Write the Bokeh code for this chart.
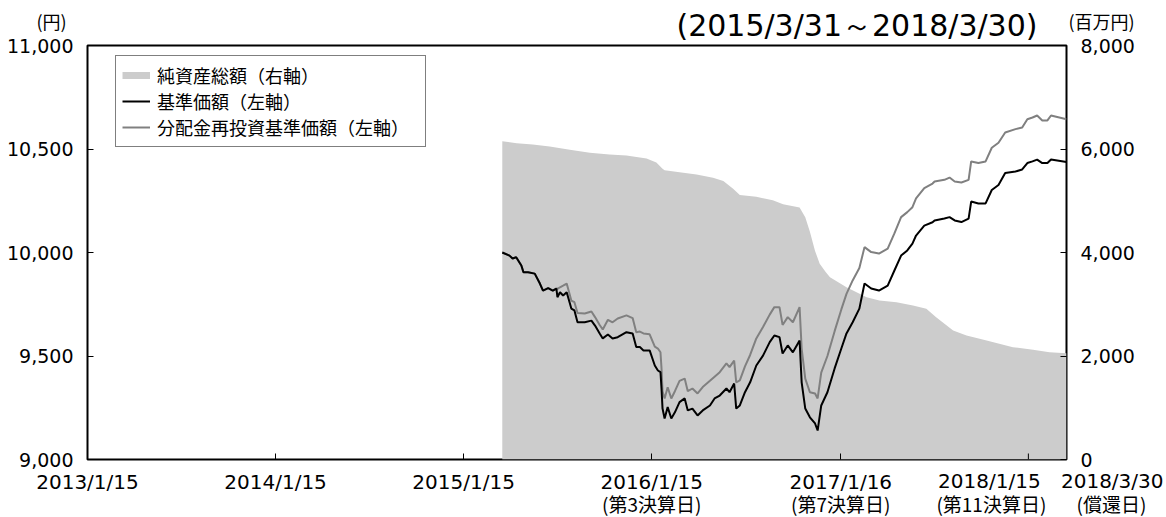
import pandas as pd
from bokeh.plotting import figure
from bokeh.models import (ColumnDataSource, Range1d, LinearAxis, FixedTicker,
                          NumeralTickFormatter, Legend, LegendItem)
from bokeh.embed import file_html
from bokeh.resources import INLINE
from bokeh.core.properties import value

# ---------------- data ----------------
price_dates = [
    "2015-03-31", "2015-04-14", "2015-04-20", "2015-04-27", "2015-05-07", "2015-05-11", "2015-05-20", "2015-06-02", "2015-06-12", "2015-06-18",
    "2015-06-28", "2015-07-07", "2015-07-14", "2015-07-16", "2015-07-21", "2015-07-27", "2015-08-03", "2015-08-12", "2015-08-18", "2015-08-24",
    "2015-09-07", "2015-09-20", "2015-09-27", "2015-10-06", "2015-10-12", "2015-10-22", "2015-10-31", "2015-11-10", "2015-11-27", "2015-12-09",
    "2015-12-16", "2015-12-23", "2015-12-30", "2016-01-11", "2016-01-21", "2016-01-27", "2016-02-01", "2016-02-03", "2016-02-05", "2016-02-09",
    "2016-02-15", "2016-02-22", "2016-02-29", "2016-03-09", "2016-03-19", "2016-03-25", "2016-04-03", "2016-04-13", "2016-04-23", "2016-05-07",
    "2016-05-16", "2016-05-26", "2016-06-08", "2016-06-14", "2016-06-23", "2016-06-27", "2016-07-04", "2016-07-14", "2016-07-24", "2016-08-05",
    "2016-08-18", "2016-08-31", "2016-09-09", "2016-09-19", "2016-09-25", "2016-10-05", "2016-10-15", "2016-10-28", "2016-11-01", "2016-11-08",
    "2016-11-17", "2016-11-27", "2016-12-02", "2016-12-09", "2016-12-21", "2017-01-04", "2017-01-17", "2017-01-27", "2017-02-08", "2017-02-21",
    "2017-03-03", "2017-03-16", "2017-03-31", "2017-04-17", "2017-04-30", "2017-05-13", "2017-05-25", "2017-06-04", "2017-06-11", "2017-06-27",
    "2017-07-13", "2017-07-17", "2017-08-05", "2017-08-15", "2017-08-25", "2017-09-07", "2017-09-21", "2017-09-26", "2017-10-10", "2017-10-24",
    "2017-11-05", "2017-11-18", "2017-12-01", "2017-12-21", "2018-01-03", "2018-01-13", "2018-01-23", "2018-02-01", "2018-02-11", "2018-02-21",
    "2018-02-28", "2018-03-30",
]
# 基準価額 (yen, left axis)
base_price = [
    10000, 9985, 9971, 9977, 9937, 9905, 9905, 9898, 9850, 9816,
    9828, 9816, 9826, 9784, 9808, 9792, 9808, 9729, 9720, 9663,
    9663, 9671, 9647, 9609, 9585, 9604, 9585, 9591, 9615, 9609,
    9543, 9543, 9527, 9527, 9454, 9430, 9422, 9343, 9246, 9198,
    9253, 9198, 9228, 9277, 9295, 9237, 9246, 9213, 9237, 9261,
    9295, 9309, 9343, 9325, 9367, 9246, 9261, 9325, 9373, 9454,
    9502, 9567, 9599, 9591, 9512, 9551, 9518, 9575, 9373, 9246,
    9204, 9174, 9140, 9261, 9325, 9440, 9536, 9609, 9663, 9729,
    9850, 9826, 9816, 9840, 9913, 9985, 10010, 10043, 10082, 10130,
    10146, 10155, 10164, 10171, 10155, 10147, 10164, 10246, 10237, 10237,
    10302, 10326, 10384, 10391, 10401, 10432, 10440, 10449, 10432, 10432,
    10449, 10437,
]
# 分配金再投資基準価額 (yen, left axis)
reinvest_price = [
    10000, 9985, 9971, 9977, 9937, 9905, 9905, 9898, 9850, 9816,
    9828, 9816, 9826, 9824, 9832, 9840, 9850, 9768, 9760, 9708,
    9705, 9715, 9688, 9650, 9628, 9675, 9663, 9681, 9696, 9683,
    9615, 9618, 9609, 9605, 9545, 9536, 9518, 9440, 9330, 9295,
    9349, 9295, 9330, 9380, 9391, 9330, 9343, 9319, 9350, 9380,
    9400, 9422, 9464, 9446, 9478, 9373, 9382, 9450, 9505, 9585,
    9640, 9700, 9736, 9736, 9650, 9688, 9663, 9736, 9536, 9391,
    9325, 9319, 9295, 9420, 9500, 9620, 9725, 9800, 9865, 9925,
    10026, 10002, 9995, 10019, 10092, 10171, 10195, 10219, 10261, 10311,
    10333, 10343, 10351, 10362, 10343, 10338, 10351, 10440, 10432, 10440,
    10506, 10530, 10580, 10596, 10604, 10644, 10652, 10662, 10638, 10638,
    10662, 10644,
]
# 純資産総額 (million yen, right axis)
nav_dates = [
    "2015-03-31", "2015-04-28", "2015-05-29", "2015-07-01", "2015-08-09", "2015-09-17", "2015-10-25", "2015-11-27", "2016-01-05", "2016-01-24",
    "2016-02-05", "2016-02-09", "2016-03-09", "2016-04-11", "2016-05-13", "2016-06-02", "2016-06-21", "2016-07-04", "2016-08-05", "2016-09-06",
    "2016-09-26", "2016-10-28", "2016-11-08", "2016-11-17", "2016-11-27", "2016-12-06", "2016-12-18", "2016-12-26", "2017-01-27", "2017-03-07",
    "2017-04-01", "2017-05-04", "2017-06-05", "2017-07-01", "2017-07-20", "2017-08-22", "2017-09-17", "2017-10-26", "2017-12-16", "2018-01-24",
    "2018-02-25", "2018-03-30",
]
nav_values = [
    6150, 6112, 6087, 6048, 5985, 5926, 5894, 5874, 5815, 5740,
    5617, 5590, 5552, 5507, 5445, 5380, 5230, 5110, 5075, 5010,
    4930, 4870, 4682, 4400, 4030, 3785, 3620, 3523, 3330, 3136,
    3072, 3040, 2976, 2912, 2750, 2493, 2396, 2300, 2170, 2120,
    2074, 2054,
]

axis_start = "2013-01-15"
axis_end = "2018-03-30"
axis_label_dates = ["2013-01-15", "2014-01-15", "2015-01-15", "2016-01-15", "2017-01-16"]
axis_label_texts = ["2013/1/15", "2014/1/15", "2015/1/15", "2016/1/15", "2017/1/16"]
extra_tick_dates = ["2018-01-15"]
end_label_dates = ["2018-01-15", "2018-03-30"]
end_label_texts = ["2018/1/15", "2018/3/30"]
sub_label_dates = ["2016-01-15", "2017-01-16", "2018-01-15", "2018-03-30"]
sub_label_texts = ["(第3決算日)", "(第7決算日)", "(第11決算日)", "(償還日)"]
left_ticks = [9000, 9500, 10000, 10500, 11000]
right_ticks = [0, 2000, 4000, 6000, 8000]
legend_labels = ["純資産総額（右軸）", "基準価額（左軸）", "分配金再投資基準価額（左軸）"]
title_text = "(2015/3/31～2018/3/30)"
left_unit = "(円)"
right_unit = "(百万円)"

# ---------------- styling / layout ----------------
NUM_FONT = "DejaVu Sans"
JP_FONT = "Noto Sans CJK JP"
NAV_COLOR = "#cccccc"
REINV_COLOR = "#808080"


def ms(d):
    return int(pd.Timestamp(d).value // 10**6)


p = figure(width=1166, height=517, x_axis_type="datetime",
           x_range=Range1d(ms(axis_start), ms(axis_end)),
           y_range=Range1d(left_ticks[0], left_ticks[-1]),
           output_backend="svg", toolbar_location=None,
           min_border_left=87, min_border_right=100,
           min_border_top=45, min_border_bottom=58)
p.xgrid.visible = False
p.ygrid.visible = False
p.outline_line_color = "black"
p.outline_line_width = 2
p.background_fill_color = "white"
p.border_fill_color = "white"

p.extra_y_ranges = {"nav": Range1d(right_ticks[0], right_ticks[-1])}


def style_axis(ax, size):
    ax.axis_line_color = None
    ax.major_tick_in = 6
    ax.major_tick_out = 0
    ax.major_tick_line_color = "black"
    ax.minor_tick_line_color = None
    ax.major_label_text_font = NUM_FONT
    ax.major_label_text_font_size = size
    ax.major_label_text_color = "black"


ya = p.yaxis[0]
ya.ticker = FixedTicker(ticks=left_ticks)
ya.formatter = NumeralTickFormatter(format="0,0")
style_axis(ya, "19px")
ya.major_label_standoff = 14

ra = LinearAxis(y_range_name="nav", ticker=FixedTicker(ticks=right_ticks),
                formatter=NumeralTickFormatter(format="0,0"))
style_axis(ra, "19px")
ra.major_label_standoff = 14
p.add_layout(ra, "right")

xa = p.xaxis[0]
xa.ticker = FixedTicker(ticks=[ms(d) for d in axis_label_dates])
xa.major_label_overrides = {ms(d): t for d, t in zip(axis_label_dates, axis_label_texts)}
style_axis(xa, "20px")
xa.major_label_standoff = 10

# ---------------- glyphs ----------------
price_src = ColumnDataSource(dict(date=pd.to_datetime(price_dates),
                                  base=base_price, reinv=reinvest_price))
nav_src = ColumnDataSource(dict(date=pd.to_datetime(nav_dates), nav=nav_values))

p.varea(x="date", y1=0, y2="nav", source=nav_src, fill_color=NAV_COLOR,
        y_range_name="nav")
r_reinv = p.line(x="date", y="reinv", source=price_src, line_color=REINV_COLOR,
                 line_width=2)
r_base = p.line(x="date", y="base", source=price_src, line_color="black",
                line_width=2)
# inward tick mark for 2018/1/15 (its label is shifted left)
p.ray(x=[ms(d) for d in extra_tick_dates], y=[left_ticks[0]] * len(extra_tick_dates),
      length=6, length_units="screen", angle=90, angle_units="deg",
      line_color="black", line_width=1)
# legend swatch proxy for the area (draws nothing in the plot)
r_nav_proxy = p.line(x=[ms(axis_start)], y=[float("nan")], line_color=NAV_COLOR,
                     line_width=7)

legend = Legend(items=[
    LegendItem(label=legend_labels[0], renderers=[r_nav_proxy]),
    LegendItem(label=legend_labels[1], renderers=[r_base]),
    LegendItem(label=legend_labels[2], renderers=[r_reinv]),
], location=(28, 312))
legend.label_text_font = JP_FONT
legend.label_text_font_size = "18px"
legend.label_text_color = "black"
legend.glyph_width = 28
legend.glyph_height = 22
legend.label_height = 22
legend.label_width = 262
legend.spacing = 0
legend.padding = 6
legend.margin = 0
legend.label_standoff = 7
legend.border_line_color = "black"
legend.border_line_width = 1
legend.background_fill_color = "white"
legend.background_fill_alpha = 1
p.add_layout(legend)

# ---------------- texts outside the frame (overlay level, not clipped) ----------------
end_src = ColumnDataSource(dict(x=[ms(d) for d in end_label_dates], text=end_label_texts,
                                dx=[-39, 97], align=["center", "right"]))
p.text(x="x", y=left_ticks[0], text="text", source=end_src, x_offset="dx", y_offset=21,
       text_align="align", text_baseline=value("middle"), text_font=value(NUM_FONT),
       text_font_size=value("20px"), text_color="black", level="overlay")

sub_src = ColumnDataSource(dict(x=[ms(d) for d in sub_label_dates], text=sub_label_texts,
                                dx=[0, 0, -37, 45]))
p.text(x="x", y=left_ticks[0], text="text", source=sub_src, x_offset="dx", y_offset=44,
       text_align=value("center"), text_baseline=value("middle"), text_font=value(JP_FONT),
       text_font_size=value("19px"), text_color="black", level="overlay")

top_src = ColumnDataSource(dict(x=[ms(axis_end), ms(axis_start), ms(axis_end)],
                                text=[title_text, left_unit, right_unit],
                                dx=[-29, -36, 2], dy=[-20, -25, -25],
                                align=["right", "center", "left"],
                                font=[NUM_FONT, JP_FONT, JP_FONT],
                                size=["30px", "18px", "18px"]))
p.text(x="x", y=left_ticks[-1], text="text", source=top_src, x_offset="dx", y_offset="dy",
       text_align="align", text_baseline=value("middle"), text_font="font",
       text_font_size="size", text_color="black", level="overlay")

open("out.html", "w").write(file_html(p, INLINE))
